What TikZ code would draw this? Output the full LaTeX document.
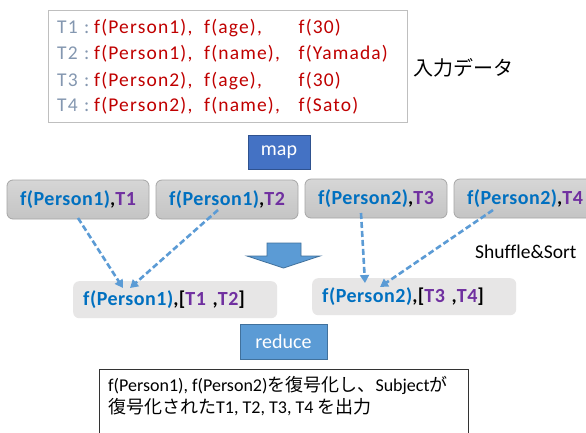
\documentclass[tikz,border=0pt]{standalone}
\usepackage{fontspec}
\setmainfont{Carlito}
\newfontfamily\spc[LetterSpace=6]{Carlito}
\newfontfamily\spcb[LetterSpace=2.5,BoldFont={Carlito Bold}]{Carlito}
\newfontfamily\nolig[Ligatures=NoCommon]{Carlito}
\newfontfamily\jp{Noto Sans CJK JP}
\usetikzlibrary{arrows.meta}
\definecolor{tgray}{RGB}{132,151,176}
\definecolor{fred}{RGB}{192,0,0}
\definecolor{fblue}{RGB}{0,112,192}
\definecolor{fpurple}{RGB}{112,48,160}
\definecolor{mapblue}{RGB}{68,114,196}
\definecolor{mapborder}{RGB}{47,82,143}
\definecolor{lblue}{RGB}{91,155,213}
\definecolor{lborder}{RGB}{65,113,156}
\definecolor{boxtop}{RGB}{214,214,214}
\definecolor{boxbot}{RGB}{196,196,196}
\definecolor{boxborder}{RGB}{166,166,166}
\definecolor{resfill}{RGB}{231,230,230}
\definecolor{inborder}{RGB}{191,191,191}
\tikzset{
  mbox/.style={draw=boxborder, line width=0.8pt, top color=boxtop, bottom color=boxbot, rounded corners=6pt,
    minimum width=142pt, minimum height=39pt, inner sep=0pt,
    font=\spcb\bfseries\fontsize{20}{24}\selectfont},
  rbox/.style={fill=resfill, rounded corners=6pt, minimum height=37pt,
    text width=184pt, inner xsep=10pt, inner ysep=0pt, align=left,
    font=\spcb\bfseries\fontsize{20}{24}\selectfont},
  tlab/.style={anchor=base west, inner sep=0pt, text=tgray, font=\spc\fontsize{19.5}{22}\selectfont},
  fval/.style={anchor=base west, inner sep=0pt, text=fred, font=\spc\fontsize{19.5}{22}\selectfont},
  opbox/.style={inner sep=0pt, text=white, font=\fontsize{20}{24}\selectfont},
  darr/.style={draw=lblue, line width=2.6pt, dash pattern=on 6pt off 3pt,
    -{Triangle[length=8pt,width=9pt]}},
}
\begin{document}
\begin{tikzpicture}[x=1pt,y=-1pt]
\useasboundingbox (0,0) rectangle (586,432);
\fill[white] (0,0) rectangle (586,432);

% input box
\node[draw=inborder, line width=0.8pt, minimum width=359pt, minimum height=112pt, inner sep=0pt] (inbox) at (227.5,66) {};
\foreach \i/\y/\p/\k/\v in {1/33/Person1/age/30, 2/59.5/Person1/name/Yamada, 3/86/Person2/age/30, 4/111/Person2/name/Sato}{
  \node[tlab] (tl\i) at (57,\y) {T\i};
  \node[tlab] (tc\i) at (84,\y) {:};
  \node[fval] (fp\i) at (94,\y) {f(\p),};
  \node[fval] (fk\i) at (204,\y) {f(\k),};
  \node[fval] (fv\i) at (298.5,\y) {f(\v)};
}
\node[anchor=west, inner sep=0pt, font=\jp\fontsize{20}{22}\selectfont] (indata) at (413,67.5) {入力データ};

% map
\node[draw=mapborder, line width=0.8pt, fill=mapblue, minimum width=62pt, minimum height=34pt, opbox] (map) at (279,152) {map};

% map outputs
\node[mbox] (b1) at (78,199.5) {\textcolor{fblue}{f(Person1)},\textcolor{fpurple}{T1}};
\node[mbox] (b2) at (227,199.5) {\textcolor{fblue}{f(Person1)},\textcolor{fpurple}{T2}};
\node[mbox] (b3) at (376,198.5) {\textcolor{fblue}{f(Person2)},\textcolor{fpurple}{T3}};
\node[mbox] (b4) at (525,198.5) {\textcolor{fblue}{f(Person2)},\textcolor{fpurple}{T4}};

% down arrow
\draw[fill=lblue, draw=lborder, line width=0.8pt] (267,243) -- (301,243) -- (301,256) -- (320,256) -- (283.5,268) -- (247,256) -- (267,256) -- cycle;

\node[anchor=base west, inner sep=0pt, font=\nolig\fontsize{19.5}{24}\selectfont] (ss) at (475,258) {Shuffle\&Sort};

% reduce inputs
\node[rbox, anchor=north west] (r1) at (73,281) {\textcolor{fblue}{f(Person1)},[\textcolor{fpurple}{T1} ,\textcolor{fpurple}{T2}]};
\node[rbox, anchor=north west] (r2) at (312,278) {\textcolor{fblue}{f(Person2)},[\textcolor{fpurple}{T3} ,\textcolor{fpurple}{T4}]};

% shuffle arrows
\coordinate (s1) at (78,218);
\coordinate (s2) at (218,210);
\coordinate (s3) at (361,213);
\coordinate (s4) at (493,210);
\coordinate (e1) at (123,288);
\coordinate (e2) at (130,288);
\coordinate (e3) at (365,283);
\coordinate (e4) at (380,287);
\draw[darr] (s1) -- (e1);
\draw[darr] (s2) -- (e2);
\draw[darr] (s3) -- (e3);
\draw[darr] (s4) -- (e4);

% reduce
\node[draw=lborder, line width=0.8pt, fill=lblue, minimum width=87pt, minimum height=35pt, opbox] (red) at (283.5,341.5) {reduce};

% output box
\node[draw=black!80, line width=0.8pt, anchor=north west, minimum width=369pt, minimum height=80pt, inner sep=0pt] (out) at (99,369) {};
\node[anchor=base west, inner sep=0pt, font=\fontsize{18}{22}\selectfont] (o1) at (108,391) {f(Person1), f(Person2){\jp を復号化し、}Subject{\jp が}};
\node[anchor=base west, inner sep=0pt, font=\fontsize{18}{22}\selectfont] (o2) at (108,413) {{\jp 復号化された}T1, T2, T3, T4 {\jp を出力}};
\end{tikzpicture}
\end{document}
